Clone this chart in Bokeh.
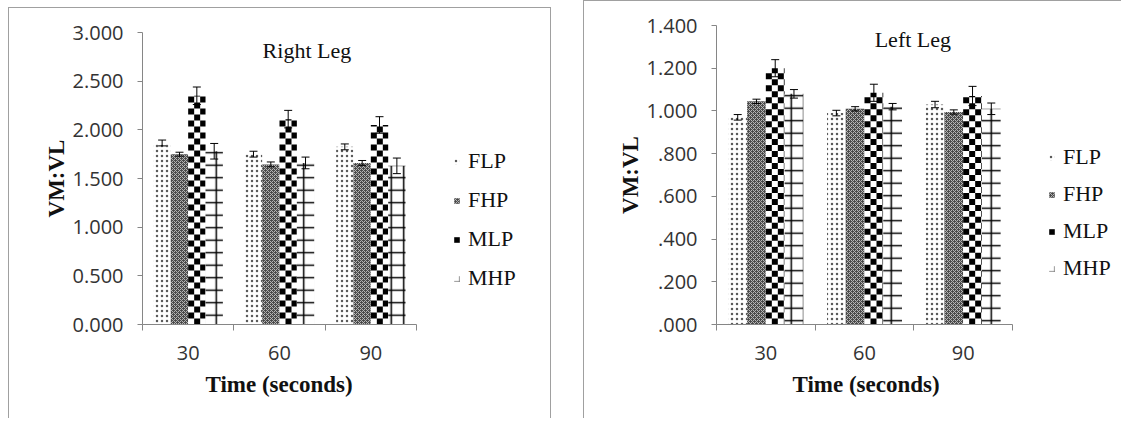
import numpy as np
import pandas as pd
from bokeh.plotting import figure
from bokeh.models import (Range1d, FixedTicker, ColumnDataSource, Whisker, TeeHead,
                          Legend, LegendItem, Label, Title)
from bokeh.layouts import row
from bokeh.embed import file_html
from bokeh.resources import INLINE

# ---------------- data ----------------
times = ["30", "60", "90"]
series = ["FLP", "FHP", "MLP", "MHP"]

right_title = "Right Leg"
right_FLP = [1.865, 1.750, 1.825]
right_FHP = [1.750, 1.645, 1.660]
right_MLP = [2.350, 2.110, 2.050]
right_MHP = [1.780, 1.660, 1.630]
right_FLP_err = [0.030, 0.030, 0.030]
right_FHP_err = [0.020, 0.025, 0.025]
right_MLP_err = [0.090, 0.090, 0.085]
right_MHP_err = [0.080, 0.060, 0.080]
right_yticks = [0.0, 0.5, 1.0, 1.5, 2.0, 2.5, 3.0]
right_ylabels = ["0.000", "0.500", "1.000", "1.500", "2.000", "2.500", "3.000"]

left_title = "Left Leg"
left_FLP = [0.970, 0.990, 1.030]
left_FHP = [1.045, 1.010, 0.995]
left_MLP = [1.200, 1.085, 1.070]
left_MHP = [1.080, 1.020, 1.010]
left_FLP_err = [0.013, 0.013, 0.015]
left_FHP_err = [0.010, 0.010, 0.010]
left_MLP_err = [0.040, 0.040, 0.045]
left_MHP_err = [0.020, 0.015, 0.027]
left_yticks = [0.0, 0.2, 0.4, 0.6, 0.8, 1.0, 1.2, 1.4]
left_ylabels = [".000", ".200", ".400", ".600", ".800", "1.000", "1.200", "1.400"]

x_title = "Time (seconds)"
y_title = "VM:VL"

# ---------------- styles ----------------
AXIS_COL = "#868686"
TICK_FONT = "Open Sans"
SERIF = "Liberation Serif"
TEXT_COL = "#111111"

styles = {
    "FLP": dict(fill_color="white", hatch_pattern="dot", hatch_scale=5, hatch_weight=1.1,
                hatch_color="#5a5a5a"),
    "FHP": dict(fill_color="#4a4a4a", hatch_pattern="diagonal_cross", hatch_scale=4,
                hatch_weight=1, hatch_color="#b5b5b5"),
    "MLP": dict(fill_color="white"),
    "MHP": dict(fill_color="white", hatch_pattern="cross", hatch_scale=12.5, hatch_weight=1.5,
                hatch_color="black"),
}

BAR_W = 0.19
offsets = [-1.5 * BAR_W, -0.5 * BAR_W, 0.5 * BAR_W, 1.5 * BAR_W]
CHECK_PX = 6.0  # checkerboard cell size in screen pixels


def checker_cells(xs, tops, sx, sy):
    """Checkerboard texture cells (in data units) that fill each bar."""
    L, R, B, T = [], [], [], []
    for x, top in zip(xs, tops):
        left, right = x - BAR_W / 2, x + BAR_W / 2
        ncol = int(np.ceil((right - left) / sx))
        nrow = int(np.ceil(top / sy))
        for i in range(ncol):
            for j in range(nrow):
                if (i + j) % 2 == 1:
                    L.append(left + i * sx)
                    R.append(min(left + (i + 1) * sx, right))
                    B.append(j * sy)
                    T.append(min((j + 1) * sy, top))
    return dict(left=L, right=R, bottom=B, top=T)


def make_panel(vals, errs, yticks, ylabels, title, title_pos, width, height,
               mb_left, mb_top, axis_w, frame_h, legend_loc, legend_spacing,
               xlabel_offset, extra_styles):
    ymax = yticks[-1]
    frame_w = width - mb_left - 3
    x_end = len(times) * frame_w / axis_w
    px_x = axis_w / len(times)
    px_y = frame_h / ymax
    p = figure(width=width, height=height, x_range=Range1d(0, x_end),
               y_range=Range1d(0, ymax), output_backend="svg", toolbar_location=None,
               min_border_left=mb_left, min_border_right=3, min_border_top=mb_top,
               min_border_bottom=height - mb_top - frame_h, styles=extra_styles)
    p.outline_line_color = None
    p.xgrid.visible = False
    p.ygrid.visible = False
    p.background_fill_color = "white"
    p.border_fill_color = "white"

    items = []
    base = np.arange(len(times)) + 0.5
    for k, s in enumerate(series):
        df = pd.DataFrame({"x": base + offsets[k], "top": vals[s], "err": errs[s]})
        df["upper"] = df["top"] + df["err"]
        df["lower"] = df["top"] - df["err"]
        src = ColumnDataSource(df)
        r = p.vbar(x="x", top="top", width=BAR_W, source=src, line_color=None, **styles[s])
        leg_r = r
        if s == "MLP":
            cells = checker_cells(df["x"], df["top"], CHECK_PX / px_x, CHECK_PX / px_y)
            leg_r = p.quad(source=ColumnDataSource(cells), left="left", right="right",
                           bottom="bottom", top="top", fill_color="black", line_color=None)
        items.append(LegendItem(label=s, renderers=[leg_r]))
        w = Whisker(base="x", upper="upper", lower="lower", source=src, line_color="black",
                    line_width=1, level="overlay",
                    upper_head=TeeHead(size=8, line_color="black", line_width=1),
                    lower_head=TeeHead(size=8, line_color="black", line_width=1))
        p.add_layout(w)

    # y axis
    p.yaxis.ticker = FixedTicker(ticks=yticks)
    p.yaxis.major_label_overrides = {t: l for t, l in zip(yticks, ylabels)}
    p.yaxis.axis_line_color = AXIS_COL
    p.yaxis.major_tick_line_color = AXIS_COL
    p.yaxis.major_tick_out = 5
    p.yaxis.major_tick_in = 0
    p.yaxis.minor_tick_line_color = None
    p.yaxis.major_label_text_font = TICK_FONT
    p.yaxis.major_label_text_font_size = "20px"
    p.yaxis.major_label_text_color = "#333333"
    p.yaxis.major_label_standoff = 14
    p.yaxis.axis_label = y_title
    p.yaxis.axis_label_text_font = SERIF
    p.yaxis.axis_label_text_font_style = "bold"
    p.yaxis.axis_label_text_font_size = "23px"
    p.yaxis.axis_label_text_color = TEXT_COL
    p.yaxis.axis_label_standoff = 1

    # x axis (ticks between categories, Excel style)
    ticks = list(base)
    p.xaxis.bounds = (0, len(times))
    p.xaxis.ticker = FixedTicker(ticks=ticks, minor_ticks=list(range(len(times) + 1)))
    p.xaxis.major_label_overrides = {t: l for t, l in zip(ticks, times)}
    p.xaxis.axis_line_color = AXIS_COL
    p.xaxis.major_tick_line_color = None
    p.xaxis.major_tick_out = 0
    p.xaxis.major_tick_in = 0
    p.xaxis.minor_tick_line_color = AXIS_COL
    p.xaxis.minor_tick_out = 6
    p.xaxis.minor_tick_in = 0
    p.xaxis.major_label_text_font = TICK_FONT
    p.xaxis.major_label_text_font_size = "20px"
    p.xaxis.major_label_text_color = "#333333"
    p.xaxis.major_label_standoff = 15

    # x-axis title, centred under the category axis (not under the legend area)
    p.add_layout(Title(text=x_title, align="left", offset=xlabel_offset, standoff=15,
                       text_font=SERIF, text_font_style="bold", text_font_size="23px",
                       text_color=TEXT_COL), "below")

    p.add_layout(Label(x=title_pos[0], y=title_pos[1], text=title, text_align="center",
                       text_baseline="middle", text_font=SERIF, text_font_size="22px",
                       text_color=TEXT_COL))

    leg = Legend(items=items, location=legend_loc, orientation="vertical",
                 glyph_width=7, glyph_height=7, label_standoff=8, spacing=legend_spacing,
                 label_height=26, padding=0, margin=0, border_line_color=None,
                 background_fill_alpha=0, label_text_font=SERIF, label_text_font_size="22px",
                 label_text_color=TEXT_COL)
    p.add_layout(leg)
    return p


right_vals = {"FLP": right_FLP, "FHP": right_FHP, "MLP": right_MLP, "MHP": right_MHP}
right_errs = {"FLP": right_FLP_err, "FHP": right_FHP_err, "MLP": right_MLP_err, "MHP": right_MHP_err}
left_vals = {"FLP": left_FLP, "FHP": left_FHP, "MLP": left_MLP, "MHP": left_MHP}
left_errs = {"FLP": left_FLP_err, "FHP": left_FHP_err, "MLP": left_MLP_err, "MHP": left_MHP_err}

p1 = make_panel(right_vals, right_errs, right_yticks, right_ylabels, right_title, (1.80, 2.81),
                width=543, height=411, mb_left=133, mb_top=24, axis_w=274, frame_h=292,
                legend_loc=(311, 33), legend_spacing=13, xlabel_offset=63,
                extra_styles={"border": "1px solid #a0a0a0", "border-bottom": "none"})

p2 = make_panel(left_vals, left_errs, left_yticks, left_ylabels, left_title, (1.99, 1.335),
                width=538, height=418, mb_left=132, mb_top=24, axis_w=296, frame_h=300,
                legend_loc=(332, 43), legend_spacing=11, xlabel_offset=76,
                extra_styles={"border": "1px solid #a0a0a0", "border-bottom": "none",
                              "border-right": "none", "margin-top": "-7px"})

layout = row(p1, p2, spacing=32, styles={"margin-left": "8px", "margin-top": "7px"})

with open("out.html", "w") as f:
    f.write(file_html(layout, INLINE))
